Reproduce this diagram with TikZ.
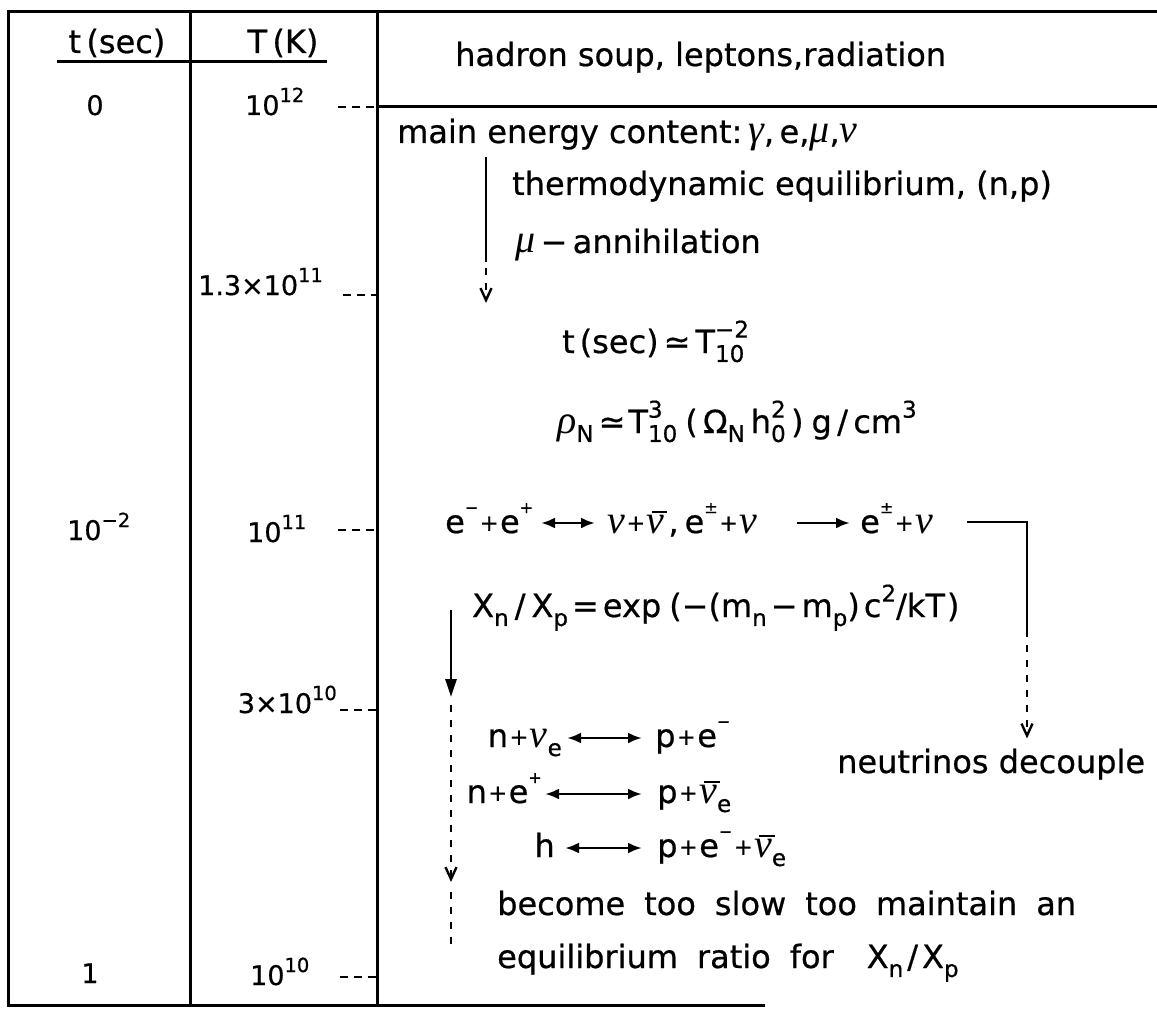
\documentclass[tikz,border=0pt]{standalone}
\usepackage{fontspec}
\setmainfont{DejaVu Sans}[FakeBold=0.6]
\newfontfamily\gkfont{Liberation Serif}
\usetikzlibrary{arrows.meta}
\newcommand\GR[1]{{\gkfont\itshape\fontsize{40}{40}\selectfont #1}}
\newcommand\NUBAR{\rlap{\hspace{0.16em}\rule[0.62em]{0.48em}{0.08em}}\GR{ν}}
\newcommand\SUP[1]{\raisebox{0.48em}{\scalebox{0.72}{#1}}}
\newcommand\SG[1]{\raisebox{0.62em}{\scalebox{0.5}{#1}}}
\newcommand\SUB[1]{\raisebox{-0.28em}{\scalebox{0.72}{#1}}}
\newcommand\SUPSUB[2]{\rlap{\SUP{#1}}\SUB{#2}}
\newcommand\PL{\hspace{1.5pt}\raisebox{0.07em}{\scalebox{0.7}{+}}\hspace{1.5pt}}
\newcommand\fsR{\fontsize{32}{38}\selectfont}
\newcommand\fsL{\fontsize{27}{31}\selectfont}
\tikzset{
  txt/.style={inner sep=0pt, anchor=base west, font=\fsR},
  num/.style={inner sep=0pt, anchor=base west, font=\fsL},
  border/.style={line width=3pt},
  lvl/.style={line width=2.8pt, dash pattern=on 8pt off 6pt},
  conn/.style={line width=2.8pt},
  dsh/.style={line width=2.8pt, dash pattern=on 7pt off 8pt},
  vtip/.style={-{Straight Barb[length=12pt,width=11pt,line width=2.4pt]}},
  dbl/.style={{Latex[length=14pt,width=11pt]}-{Latex[length=14pt,width=11pt]}},
  sgl/.style={-{Latex[length=14pt,width=11pt]}},
  big/.style={-{Triangle[length=18pt,width=11pt]}}
}
\begin{document}
\begin{tikzpicture}[x=1pt,y=-1pt]
\useasboundingbox (0,0) rectangle (1157,1011);
% table frame
\draw[border] (1157,12) -- (8,12) -- (8,1005) -- (765,1005);
\draw[border] (190,12) -- (190,1005);
\draw[border] (377,12) -- (377,1005);
\draw[border] (377,107) -- (1157,107);
\draw[border] (57,62) -- (327,62);
% headers
\node[txt, anchor=base] (th1) at (117,53) {t\,(sec)};
\node[txt, anchor=base] (th2) at (283,53) {T\,(K)};
\node[txt] (hdr) at (455,66) {hadron soup, leptons,radiation};
% left columns
\node[num, anchor=base] (c0) at (95,115) {0};
\node[num] (T12) at (245,115) {10\SUP{12}};
\node[num] (T13) at (198,295) {1.3×10\SUP{11}};
\node[num] (cm2) at (67,540) {10\SUP{−2}};
\node[num] (T11) at (247,542) {10\SUP{11}};
\node[num, anchor=base east] (T3) at (337,713) {3×10\SUP{10}};
\node[num, anchor=base] (c1) at (90,983) {1};
\node[num] (T10) at (250,985) {10\SUP{10}};
\coordinate (L12) at (338,107);
\coordinate (L13) at (343,295);
\coordinate (L11) at (338,530);
\coordinate (L3) at (340,710);
\coordinate (L10) at (340,977);
\draw[lvl] (L12) -- +(39,0);
\draw[lvl] (L13) -- +(34,0);
\draw[lvl] (L11) -- +(39,0);
\draw[lvl] (L3) -- +(37,0);
\draw[lvl] (L10) -- +(37,0);
% right column text
\node[txt] (me) at (397,143) {main energy content:\hspace{6pt}\GR{γ},\,e,\GR{μ},\GR{ν}};
\node[txt] (te) at (512,195) {thermodynamic equilibrium, (n,p)};
\node[txt] (mu) at (515,253) {\GR{μ}\,−\,annihilation};
\coordinate (a1s) at (486,157);
\coordinate (a1m) at (486,262);
\coordinate (a1d) at (486,268);
\coordinate (a1e) at (486,303);
\draw[conn] (a1s) -- (a1m);
\draw[dsh, vtip] (a1d) -- (a1e);
\node[txt] (ts) at (562,353) {t\hspace{5pt}(sec)\hspace{5pt}≃\hspace{5pt}T\SUPSUB{−2}{10}};
\node[txt] (rho) at (557,433) {\GR{ρ}\SUB{N}\hspace{5pt}≃\hspace{3pt}T\SUPSUB{3}{10}\hspace{8pt}(\,Ω\SUB{N}\hspace{6pt}h\SUPSUB{2}{0}\,)\hspace{8pt}g\,/\,cm\SUP{3}};
% e line
\node[txt] (ea) at (445,533) {e\SG{−}\PL e\SG{+}};
\node[txt] (eb) at (607,533) {\GR{ν}\PL\NUBAR\hspace{4pt},\hspace{6pt}e\SG{±}\PL\GR{ν}};
\node[txt] (ec) at (860,533) {e\SG{±}\PL\GR{ν}};
\draw[conn, dbl] ([xshift=-66pt,yshift=10pt]eb.base west) -- ([xshift=-12pt,yshift=10pt]eb.base west);
\draw[conn, sgl] ([xshift=-63pt,yshift=10pt]ec.base west) -- ([xshift=-10pt,yshift=10pt]ec.base west);
\coordinate (b0) at (967,522);
\coordinate (b1) at (1027,522);
\coordinate (b2) at (1027,630);
\draw[conn] (b0) -- (b1) -- (b2);
\node[txt] (neut) at (837,773) {neutrinos decouple};
\draw[dsh, vtip, shorten >=10pt] (b2) -- (b2 |- neut.north);
% X line
\node[txt] (xn) at (472,617) {X\SUB{n}\hspace{6pt}/\hspace{6pt}X\SUB{p}\hspace{4pt}=\hspace{4pt}exp\hspace{8pt}(−(m\SUB{n}\hspace{4pt}−\hspace{4pt}m\SUB{p})\hspace{4pt}c\SUP{2}/kT\hspace{2pt})};
\coordinate (a2s) at (451,610);
\coordinate (a2m) at (451,697);
\coordinate (a2d) at (451,705);
\coordinate (a2v) at (451,882);
\coordinate (a2w) at (451,892);
\coordinate (a2e) at (451,950);
\draw[conn, big] (a2s) -- (a2m);
\draw[dsh, vtip] (a2d) -- (a2v);
\draw[dsh] (a2w) -- (a2e);
% reactions
\node[txt, anchor=base east] (r1l) at (562,747) {n\PL\GR{ν}\SUB{e}};
\node[txt] (r1r) at (655,747) {p\PL e\SG{−}};
\node[txt, anchor=base east] (r2l) at (542,803) {n\PL e\SG{+}};
\node[txt] (r2r) at (657,803) {p\PL\NUBAR\SUB{e}};
\node[txt, anchor=base east] (r3l) at (555,857) {h};
\node[txt] (r3r) at (657,857) {p\PL e\SG{−}\PL\NUBAR\SUB{e}};
\draw[conn, dbl] ([xshift=5pt,yshift=9pt]r1l.base east) -- ([xshift=-13pt,yshift=9pt]r1r.base west);
\draw[conn, dbl] ([xshift=3pt,yshift=9pt]r2l.base east) -- ([xshift=-15pt,yshift=9pt]r2r.base west);
\draw[conn, dbl] ([xshift=10pt,yshift=9pt]r3l.base east) -- ([xshift=-15pt,yshift=9pt]r3r.base west);
\node[txt] (bc) at (497,915) {\spaceskip=19pt become too slow too maintain an};
\node[txt] (eq) at (497,968) {\spaceskip=19pt equilibrium ratio for\hspace{14pt} X\SUB{n}\hspace{4pt}/\hspace{4pt}X\SUB{p}};
\end{tikzpicture}
\end{document}
